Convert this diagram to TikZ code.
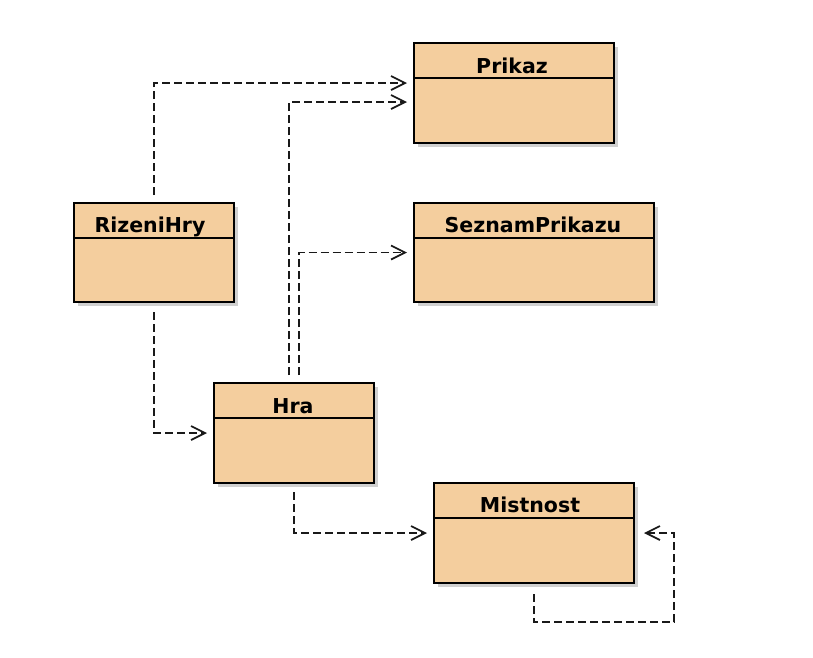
\documentclass[tikz,border=0pt]{standalone}
\usepackage{fontspec}
\setmainfont{DejaVu Sans}
\usetikzlibrary{arrows.meta,shadows,calc}
\definecolor{classfill}{RGB}{244,206,158}
\definecolor{depline}{RGB}{25,25,25}
\tikzset{
  classbox/.style={draw=black, line width=2pt, fill=classfill, inner sep=0pt,
    anchor=north west, drop shadow={shadow xshift=4pt, shadow yshift=-4pt, fill=black!30, opacity=0.6}},
  classtitle/.style={font=\bfseries\fontsize{20.5}{20.5}\selectfont, inner sep=0pt, anchor=base},
  sepline/.style={draw=black, line width=1.5pt},
  dep/.style={draw=depline, line width=1.7pt, dash pattern=on 8pt off 4pt,
    -{Straight Barb[length=14pt, width=14pt, line width=1.7pt]}}
}
\begin{document}
\begin{tikzpicture}[x=1pt, y=-1pt]
\useasboundingbox[fill=white] (0,0) rectangle (813,657);
% classes
\node[classbox, minimum width=200pt, minimum height=100pt] (prikaz) at (413,42) {};
\node[classbox, minimum width=160pt, minimum height=99pt] (rizeni) at (73,202) {};
\node[classbox, minimum width=240pt, minimum height=99pt] (seznam) at (413,202) {};
\node[classbox, minimum width=160pt, minimum height=100pt] (hra) at (213,382) {};
\node[classbox, minimum width=200pt, minimum height=100pt] (mist) at (433,482) {};
% separators
\draw[sepline] (prikaz.west |- 0,78) -- (prikaz.east |- 0,78);
\draw[sepline] (rizeni.west |- 0,238) -- (rizeni.east |- 0,238);
\draw[sepline] (seznam.west |- 0,238) -- (seznam.east |- 0,238);
\draw[sepline] (hra.west |- 0,418) -- (hra.east |- 0,418);
\draw[sepline] (mist.west |- 0,518) -- (mist.east |- 0,518);
% titles
\node[classtitle] (tprikaz) at (512,73) {Prikaz};
\node[classtitle] (trizeni) at (150,232) {RizeniHry};
\node[classtitle] (tseznam) at (533,232) {SeznamPrikazu};
\node[classtitle] (thra) at (293,413) {Hra};
\node[classtitle] (tmist) at (530,512) {Mistnost};
% dependencies
\draw[dep] ([yshift=7pt]rizeni.north) |- ([shift={(-6pt,10pt)}]prikaz.west);
\draw[dep] ([shift={(-5pt,7pt)}]hra.north) |- ([shift={(-6pt,-9pt)}]prikaz.west);
\draw[dep] ([shift={(5pt,7pt)}]hra.north) |- ([xshift=-6pt]seznam.west);
\draw[dep] ([yshift=-9pt]rizeni.south) |- ([xshift=-6pt]hra.west);
\draw[dep] ([yshift=-8pt]hra.south) |- ([xshift=-6pt]mist.west);
\draw[dep] ([yshift=-10pt]mist.south) -- ++(0,28) -| ([xshift=39pt]mist.east) -- ([xshift=9pt]mist.east);
\end{tikzpicture}
\end{document}
